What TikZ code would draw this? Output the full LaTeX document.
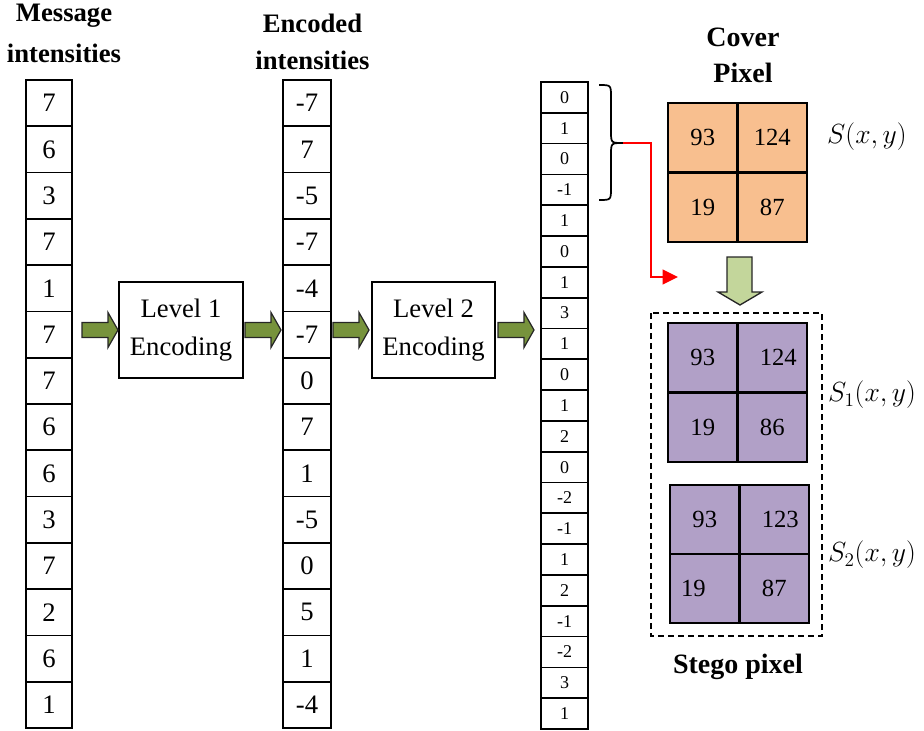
\documentclass[tikz,border=0pt]{standalone}
\usepackage{fontspec}
\setmainfont{Liberation Serif}
\usetikzlibrary{arrows.meta,calc}
\definecolor{orangefill}{HTML}{F8BF8F}
\definecolor{purplefill}{HTML}{B1A0C7}
\definecolor{lightgreen}{HTML}{C3D69B}
\definecolor{olivegreen}{HTML}{77933C}
\begin{document}
\begin{tikzpicture}[x=0.75pt,y=-0.75pt,
  cellA/.style={draw, line width=1.3pt, minimum width=34.5pt, minimum height=34.72pt, inner sep=0pt, outer sep=0pt, font=\fontsize{20}{24}\selectfont},
  cellB/.style={draw, line width=1.3pt, minimum width=36pt, minimum height=34.72pt, inner sep=0pt, outer sep=0pt, font=\fontsize{20}{24}\selectfont},
  cellC/.style={draw, line width=1.3pt, minimum width=35.25pt, minimum height=23.1pt, inner sep=0pt, outer sep=0pt, font=\fontsize{13.5}{16}\selectfont},
  pix/.style={draw, line width=1.5pt, minimum width=52.1pt, minimum height=52.1pt, inner sep=0pt, outer sep=0pt, font=\fontsize{18.5}{22}\selectfont},
  levelbox/.style={draw, line width=0.9pt, inner sep=0pt, align=center, font=\fontsize{20}{28}\selectfont},
  title/.style={anchor=base, font=\fontsize{20}{24}\selectfont\bfseries, inner sep=0pt},
  garrow/.style={fill=olivegreen, draw=black!85, line width=0.9pt},
  mathlbl/.style={font=\fontsize{20}{24}\selectfont, inner sep=0pt}
]
\useasboundingbox (0,0) rectangle (924,731);

% titles
\node[title] (t1a) at (64,22) {Message};
\node[title] (t1b) at (64,63) {intensities};
\node[title] (t2a) at (312.5,33) {Encoded};
\node[title] (t2b) at (312.5,70) {intensities};
\node[title, font=\fontsize{21}{24}\selectfont\bfseries] (t3a) at (743,47) {Cover};
\node[title, font=\fontsize{21}{24}\selectfont\bfseries] (t3b) at (743,83) {Pixel};
\node[title, font=\fontsize{21}{24}\selectfont\bfseries] (t4) at (738,673) {Stego pixel};

% column 1
\foreach \v [count=\i] in {7,6,3,7,1,7,7,6,6,3,7,2,6,1}
  \node[cellA] (m\i) at (49,{80+46.29*(\i-0.5)}) {\v};
% column 2
\foreach \v [count=\i] in {-7,7,-5,-7,-4,-7,0,7,1,-5,0,5,1,-4}
  \node[cellB] (e\i) at (307,{80+46.29*(\i-0.5)}) {\v};
% column 3
\foreach \v [count=\i] in {0,1,0,-1,1,0,1,3,1,0,1,2,0,-2,-1,1,2,-1,-2,3,1}
  \node[cellC] (c\i) at (564.5,{82+30.81*(\i-0.5)}) {\v};

% level boxes
\node[levelbox, minimum width=93pt, minimum height=72pt] (L1) at (181,330) {Level 1\\Encoding};
\node[levelbox, minimum width=92.25pt, minimum height=72pt] (L2) at (433.5,330) {Level 2\\Encoding};

% green block arrows
\foreach \x in {82,245,333,498}
  \draw[garrow, shift={(\x,330)}] (0,-7.5) -- (26,-7.5) -- (26,-17.5) -- (36,0) -- (26,17.5) -- (26,7.5) -- (0,7.5) -- cycle;

% cover pixel
\node[pix, fill=orangefill] (p11) at (702.75,137.75) {93};
\node[pix, fill=orangefill] (p12) at (772.25,137.75) {124};
\node[pix, fill=orangefill] (p21) at (702.75,207.25) {19};
\node[pix, fill=orangefill] (p22) at (772.25,207.25) {87};
\node[mathlbl] (s0) at (867,137) {$S(x,y)$};

% down arrow
\draw[fill=lightgreen, draw=black!85, line width=1pt] (727,257) -- (752,257) -- (752,292) -- (762,292) -- (740,305) -- (718,292) -- (727,292) -- cycle;

% stego pixels
\draw[dash pattern=on 4.5pt off 3pt, line width=1.1pt] (651,313) rectangle (822,636);
\node[pix, fill=purplefill] (q11) at (702.75,357.75) {93};
\node[pix, fill=purplefill] (q12) at (772.25,357.75) {\hspace*{9pt}124};
\node[pix, fill=purplefill] (q21) at (702.75,427.25) {19};
\node[pix, fill=purplefill] (q22) at (772.25,427.25) {86};
\node[mathlbl] (s1) at (872,395) {$S_1(x,y)$};

\node[pix, fill=purplefill] (r11) at (704.75,519.5) {93};
\node[pix, fill=purplefill] (r12) at (774.25,519.5) {\hspace*{9pt}123};
\node[pix, fill=purplefill] (r21) at (704.75,588.5) {19\hspace*{17pt}};
\node[pix, fill=purplefill] (r22) at (774.25,588.5) {87};
\node[mathlbl] (s2) at (872,555) {$S_2(x,y)$};

% brace
\coordinate (bt) at (623,143);
\draw[line width=1.3pt] (599,85) .. controls (611,85) .. (611,97) -- (611,131) .. controls (611,143) .. (bt) .. controls (611,143) .. (611,155) -- (611,188) .. controls (611,200) .. (599,200);

% red connector
\coordinate (rt) at (678,277);
\draw[red, line width=1.6pt, -{Triangle[length=11.5pt,width=11pt]}] (bt) -- ++(28,0) |- (rt);
\end{tikzpicture}
\end{document}
